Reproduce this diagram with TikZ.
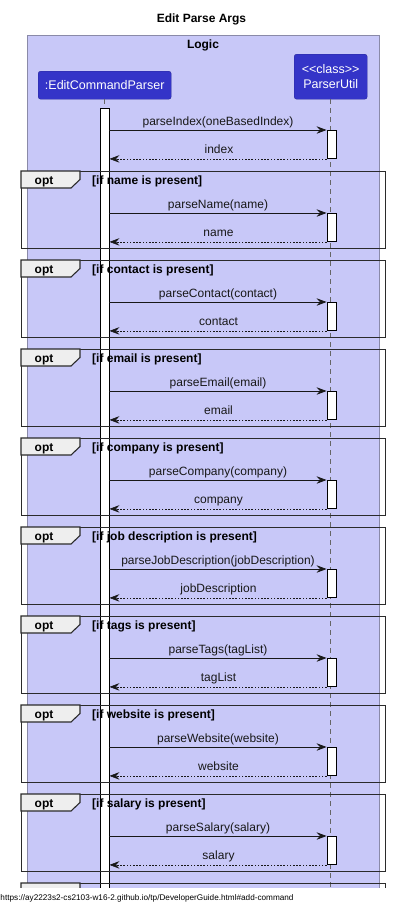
\documentclass[tikz,border=0pt]{standalone}
\usepackage{fontspec}
\setmainfont{Liberation Sans}
\usetikzlibrary{arrows.meta}
\definecolor{logicfill}{HTML}{C8C8F8}
\definecolor{logicline}{HTML}{8A8AA8}
\definecolor{partfill}{HTML}{3434C8}
\definecolor{partline}{HTML}{2A2A9A}
\definecolor{frameline}{HTML}{2B2B2B}
\definecolor{tabfill}{HTML}{EEEEEE}
\definecolor{msgcol}{HTML}{181818}
\tikzset{
  part/.style={draw=partline, fill=partfill, rounded corners=2.5pt, text=white, inner sep=0pt,
    font=\fontsize{12.5}{15}\selectfont, align=center, anchor=north west},
  life/.style={draw=black!60, line width=0.6pt, dash pattern=on 5pt off 4pt},
  actbar/.style={draw=black, fill=white, line width=0.9pt, minimum width=9pt, inner sep=0pt, anchor=north},
  msgtip/.style={-{Stealth[length=10pt,width=7.5pt,inset=3.5pt]}},
  callmsg/.style={msgtip, draw=msgcol, line width=0.8pt},
  retmsg/.style={msgtip, draw=msgcol, line width=0.6pt, dash pattern=on 1.6pt off 1.6pt},
  lbl/.style={font=\fontsize{12}{14}\selectfont, text=msgcol, inner sep=0pt, anchor=base},
  frm/.style={draw=frameline, line width=1.4pt, inner sep=0pt, anchor=north west, minimum width=363.5pt, minimum height=76.5pt},
  tabshape/.style={draw=frameline, fill=tabfill, line width=1.1pt},
  bold12/.style={font=\bfseries\fontsize{12}{14}\selectfont, inner sep=0pt, anchor=base}
}
\begin{document}
\begin{tikzpicture}[x=1pt,y=-1pt]
\useasboundingbox[fill=white] (0,0) rectangle (413,908);

% title
\node[bold12] (title) at (201.5,22) {Edit Parse Args};

% Logic box
\node[draw=logicline, fill=logicfill, line width=0.8pt, anchor=north west, inner sep=0pt,
      minimum width=352pt, minimum height=880pt] (logic) at (27,35) {};
\node[bold12] (logictitle) at (203,48) {Logic};

% participants
\node[part, minimum width=133pt, minimum height=28pt] (ecp) at (38,71) {:EditCommandParser};
\node[part, minimum width=73pt, minimum height=45pt] (pu) at (294,54) {<\kern0pt<class>\kern0pt>\\ParserUtil};

% lifelines
\draw[life] (ecp.south) -- (ecp.south |- logic.south);
\draw[life] (pu.south) -- (pu.south |- logic.south);

% main activation bar
\node[actbar, minimum height=800pt] (mb) at (104.5,108) {};

% first message
\node[actbar, minimum height=28pt] (b0) at (331.5,130) {};
\draw[callmsg] (mb.east |- b0.north) -- (b0.north west);
\draw[retmsg] (b0.south west) -- (mb.east |- b0.south);
\node[lbl] (c0) at (218,125) {parseIndex(oneBasedIndex)};
\node[lbl] (r0) at (219,153) {index};

% opt frames
\foreach \cond/\callt/\rett [count=\k from 1] in {
  name/parseName(name)/name,
  contact/parseContact(contact)/contact,
  email/parseEmail(email)/email,
  company/parseCompany(company)/company,
  job description/parseJobDescription(jobDescription)/jobDescription,
  tags/parseTags(tagList)/tagList,
  website/parseWebsite(website)/website,
  salary/parseSalary(salary)/salary}{
  \pgfmathsetmacro{\T}{171+89*(\k-1)}
  \node[actbar, minimum height=28pt] (b\k) at (331.5,\T+42) {};
  \draw[callmsg] (mb.east |- b\k.north) -- (b\k.north west);
  \draw[retmsg] (b\k.south west) -- (mb.east |- b\k.south);
  \node[lbl] (c\k) at (218,\T+37) {\callt};
  \node[lbl] (r\k) at (218.5,\T+65) {\rett};
  \node[frm] (f\k) at (21,\T) {};
  \draw[tabshape] (f\k.north west) -- ++(59,0) -- ++(0,8.5) -- ++(-9,8.5) -- ++(-50,0) -- cycle;
  \node[bold12] (o\k) at (44,\T+13.5) {opt};
  \node[bold12, anchor=base west] (g\k) at (92,\T+13.5) {[if \cond\ is present]};
}
% ninth frame (cut off)
\node[frm] (f9) at (21,883) {};
\draw[tabshape] (f9.north west) -- ++(59,0) -- ++(0,8.5) -- ++(-9,8.5) -- ++(-50,0) -- cycle;

% footer
\fill[white] (0,888) rectangle (413,908);
\node[anchor=base west, inner sep=0pt, font=\fontsize{8.2}{10}\selectfont] (url) at (0.3,900)
  {https://ay2223s2-cs2103-w16-2.github.io/tp/DeveloperGuide.html\#add-command};
\end{tikzpicture}
\end{document}
